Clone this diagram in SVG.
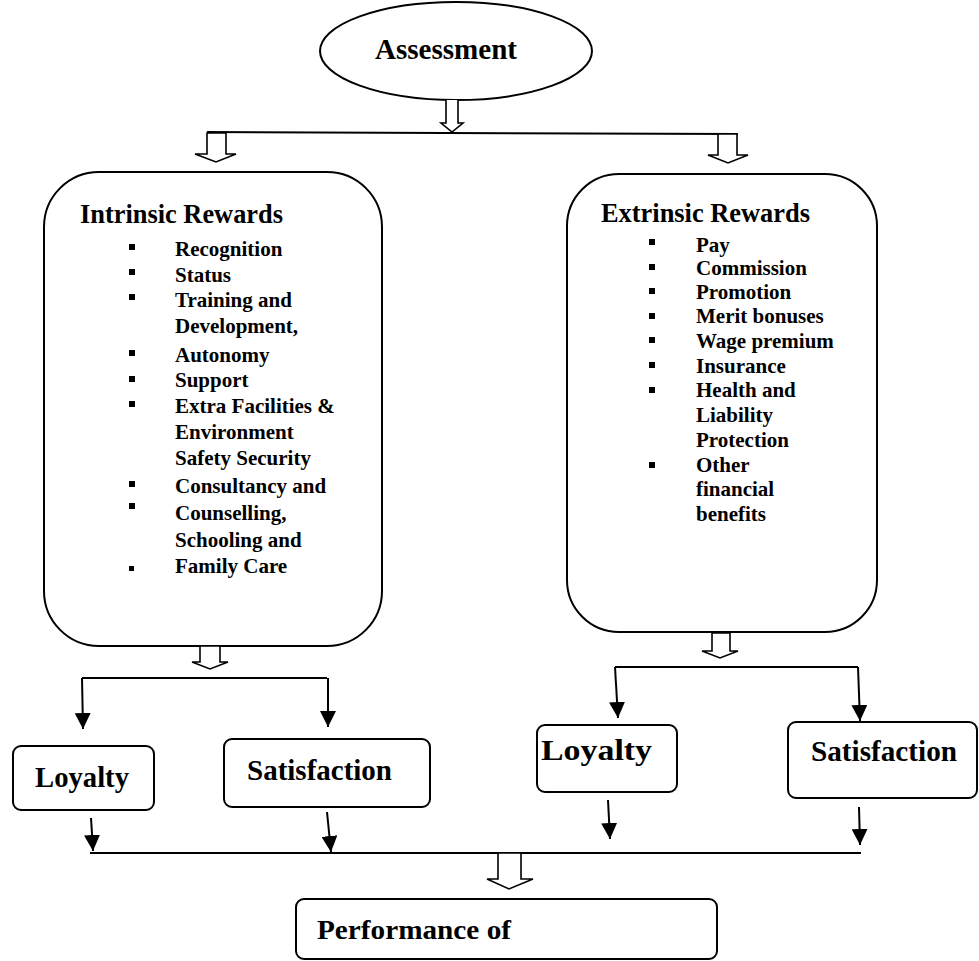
<svg xmlns="http://www.w3.org/2000/svg" width="979" height="961" viewBox="0 0 979 961">
<style>
text{font-family:"Liberation Serif","Times New Roman",serif;font-weight:bold;fill:#000}
.box{fill:#fff;stroke:#000;stroke-width:2}
.ln{fill:none;stroke:#000;stroke-width:2}
.hollow{fill:#fff;stroke:#000;stroke-width:1.6;stroke-linejoin:miter}
.item{font-size:21px}
.head{font-size:26.5px}
.big{font-size:28.5px}
</style>
<defs>
<marker id="ah" viewBox="0 0 10 10" refX="10" refY="5" markerWidth="8" markerHeight="8" markerUnits="userSpaceOnUse" orient="auto">
<path d="M0,0 L10,5 L0,10 Z" fill="#000"/>
</marker>
<marker id="ahb" viewBox="0 0 16 16" refX="16" refY="8" markerWidth="16" markerHeight="16" markerUnits="userSpaceOnUse" orient="auto">
<path d="M0,0 L16,8 L0,16 Z" fill="#000"/>
</marker>
</defs>

<g id="assessment">
<ellipse class="box" cx="456" cy="51" rx="136" ry="49"/>
<text x="375" y="59" font-size="29" textLength="142" lengthAdjust="spacingAndGlyphs">Assessment</text>
</g>

<g id="intrinsic">
<rect class="box" x="44" y="172" width="338" height="474" rx="55" ry="55"/>
<text class="head" x="80" y="223" textLength="203" lengthAdjust="spacingAndGlyphs">Intrinsic Rewards</text>
<g fill="#000">
<rect x="129" y="244" width="6" height="6"/>
<rect x="129" y="269" width="6" height="6"/>
<rect x="129" y="294" width="6" height="6"/>
<rect x="129" y="350" width="6" height="6"/>
<rect x="129" y="376" width="6" height="6"/>
<rect x="129" y="401" width="6" height="6"/>
<rect x="129" y="481" width="6" height="6"/>
<rect x="129" y="503" width="6" height="6"/>
<rect x="129" y="566" width="5" height="5"/>
</g>
<text class="item" x="175" y="256">Recognition</text>
<text class="item" x="175" y="282">Status</text>
<text class="item" x="175" y="307">Training and</text>
<text class="item" x="175" y="333">Development,</text>
<text class="item" x="175" y="362">Autonomy</text>
<text class="item" x="175" y="387">Support</text>
<text class="item" x="175" y="413">Extra Facilities &amp;</text>
<text class="item" x="175" y="439">Environment</text>
<text class="item" x="175" y="465">Safety Security</text>
<text class="item" x="175" y="493">Consultancy and</text>
<text class="item" x="175" y="520">Counselling,</text>
<text class="item" x="175" y="547">Schooling and</text>
<text class="item" x="175" y="573">Family Care</text>
</g>

<g id="extrinsic">
<rect class="box" x="567" y="174" width="310" height="458" rx="52" ry="52"/>
<text class="head" x="601" y="222" textLength="209" lengthAdjust="spacingAndGlyphs">Extrinsic Rewards</text>
<g fill="#000">
<rect x="649" y="239" width="6" height="6"/>
<rect x="649" y="264" width="6" height="6"/>
<rect x="649" y="288" width="6" height="6"/>
<rect x="649" y="313" width="6" height="6"/>
<rect x="649" y="337" width="6" height="6"/>
<rect x="649" y="362" width="6" height="6"/>
<rect x="649" y="387" width="6" height="6"/>
<rect x="649" y="462" width="6" height="6"/>
</g>
<text class="item" x="696" y="252">Pay</text>
<text class="item" x="696" y="275">Commission</text>
<text class="item" x="696" y="299">Promotion</text>
<text class="item" x="696" y="323">Merit bonuses</text>
<text class="item" x="696" y="348">Wage premium</text>
<text class="item" x="696" y="373">Insurance</text>
<text class="item" x="696" y="397">Health and</text>
<text class="item" x="696" y="422">Liability</text>
<text class="item" x="696" y="447">Protection</text>
<text class="item" x="696" y="472">Other</text>
<text class="item" x="696" y="496">financial</text>
<text class="item" x="696" y="521">benefits</text>
</g>

<g id="loyalty-left">
<rect class="box" x="13" y="746" width="141" height="64" rx="8" ry="8"/>
<text class="big" x="35" y="787" textLength="94" lengthAdjust="spacingAndGlyphs">Loyalty</text>
</g>
<g id="satisfaction-left">
<rect class="box" x="224" y="739" width="206" height="68" rx="8" ry="8"/>
<text class="big" x="247" y="780" textLength="145" lengthAdjust="spacingAndGlyphs">Satisfaction</text>
</g>
<g id="loyalty-right">
<rect class="box" x="537" y="725" width="140" height="67" rx="8" ry="8"/>
<text class="big" x="541" y="760" textLength="111" lengthAdjust="spacingAndGlyphs">Loyalty</text>
</g>
<g id="satisfaction-right">
<rect class="box" x="788" y="722" width="189" height="76" rx="8" ry="8"/>
<text class="big" x="811" y="761" textLength="146" lengthAdjust="spacingAndGlyphs">Satisfaction</text>
</g>
<g id="performance">
<rect class="box" x="296" y="899" width="421" height="60" rx="8" ry="8"/>
<text x="317" y="939" font-size="28" textLength="194" lengthAdjust="spacingAndGlyphs">Performance of</text>
</g>

<g id="connectors">
<path class="hollow" d="M446,100 V123 H441 L452,132 L463,123 H458 V100"/>
<path class="ln" d="M207,132 L738,134"/>
<path class="hollow" d="M207,133 V154 H195 L216,162 L236,154 H226 V133 Z"/>
<path class="hollow" d="M718,134 V155 H708 L728,163 L748,155 H737 V134 Z"/>
<path class="hollow" d="M200,646 V662 H192 L210,669 L228,662 H220 V646 Z"/>
<path class="hollow" d="M712,633 V651 H702 L720,658 L738,651 H730 V633 Z"/>
<path class="ln" d="M82,678 H327"/>
<path class="ln" d="M82,678 L83,729" marker-end="url(#ahb)"/>
<path class="ln" d="M328,678 L328,727" marker-end="url(#ahb)"/>
<path class="ln" d="M615,667 H858"/>
<path class="ln" d="M615,667 L618,718" marker-end="url(#ahb)"/>
<path class="ln" d="M858,667 L860,721" marker-end="url(#ahb)"/>
<path class="ln" d="M91,818 L93,851" marker-end="url(#ahb)"/>
<path class="ln" d="M327,812 L331,852" marker-end="url(#ahb)"/>
<path class="ln" d="M608,800 L610,839" marker-end="url(#ahb)"/>
<path class="ln" d="M859,807 L860,845" marker-end="url(#ahb)"/>
<path class="ln" d="M90,853 H861"/>
<path class="hollow" d="M498,853 V879 H487 L509,889 L533,879 H521 V853 Z"/>
</g>
</svg>
